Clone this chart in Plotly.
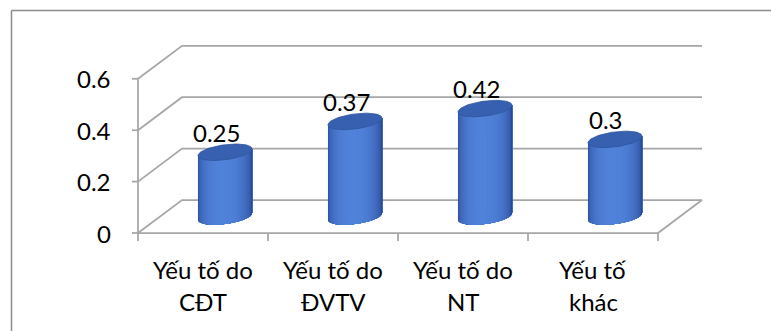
import numpy as np
import plotly.graph_objects as go

# ---- chart data -------------------------------------------------------------
categories = ["Yếu tố do\nCĐT", "Yếu tố do\nĐVTV", "Yếu tố do\nNT", "Yếu tố\nkhác"]
values = [0.25, 0.37, 0.42, 0.3]
tick_values = [0, 0.2, 0.4, 0.6]
tick_labels = ["0", "0.2", "0.4", "0.6"]

# ---- look & geometry ----------------------------------------------------------
W, H = 771, 331
PX_X = 1 / 130.0          # one pixel in category units
PX_Y = 1 / 257.0          # one pixel in value units
X0_PX, Y0_PX = 138, 233   # where the front-left-bottom corner sits
DEPTH_DX = 44 * PX_X      # oblique depth offset of the back wall
DEPTH_DY = 33 * PX_Y
GRID = "#a6a6a6"
FONT = "Lato"
FONT_SIZE = 24
CYL_RX = 0.19             # cylinder radius across (category units)
CYL_RZ = 0.25             # cylinder radius in depth (fraction of depth)
CYL_ZC = 0.5              # cylinder sits at mid depth
DARK = np.array([36, 64, 138])
LIGHT = np.array([80, 130, 218])
TOP = "#3760b0"

n_cat = len(categories)
fig = go.Figure()


def line(xs, ys, width=1.75, color=GRID):
    fig.add_trace(go.Scatter(x=xs, y=ys, mode="lines",
                             line=dict(color=color, width=width),
                             hoverinfo="skip", showlegend=False))


# ---- walls: side wall + back wall gridlines, floor, axes ---------------------
for t in tick_values:
    line([0, DEPTH_DX, n_cat + DEPTH_DX], [t, t + DEPTH_DY, t + DEPTH_DY])
# floor front edge (category axis) and right edge
line([0, n_cat, n_cat + DEPTH_DX], [0, 0, DEPTH_DY])
# value axis
line([0, 0], [0, max(tick_values)])
# value axis tick marks
tx, ty = [], []
for t in tick_values:
    tx += [-6 * PX_X, 0, None]
    ty += [t, t, None]
line(tx, ty)
# category tick marks
cx_, cy_ = [], []
for i in range(n_cat + 1):
    cx_ += [i, i, None]
    cy_ += [0, -8 * PX_Y, None]
line(cx_, cy_)

# ---- cylinders ---------------------------------------------------------------
theta_star = np.arctan2(CYL_RZ * DEPTH_DX, CYL_RX)
N_STRIPS = 60
edges = np.linspace(theta_star + np.pi, theta_star + 2 * np.pi, N_STRIPS + 1)
light_dir = 1.5 * np.pi + 0.35


def proj(cx, base, th):
    z = CYL_ZC + CYL_RZ * np.sin(th)
    return cx + CYL_RX * np.cos(th) + z * DEPTH_DX, base + z * DEPTH_DY


# each band runs from its own start angle to the right silhouette edge and the
# next band is painted over it, so neighbouring bands never leave seams
for k in range(N_STRIPS):
    a, b = edges[k], edges[-1]
    mid = 0.5 * (edges[k] + edges[k + 1])
    t = max(0.0, np.cos(mid - light_dir)) ** 0.8
    rgb = DARK + (LIGHT - DARK) * t
    col = "rgb(%d,%d,%d)" % tuple(rgb.round().astype(int))
    xs, ys = [], []
    for i, v in enumerate(values):
        cx = i + 0.5
        th = np.linspace(a, b, 40)
        bx, by = proj(cx, 0.0, th)
        ux, uy = proj(cx, v, th[::-1])
        xs += list(bx) + list(ux) + [bx[0], None]
        ys += list(by) + list(uy) + [by[0], None]
    fig.add_trace(go.Scatter(x=xs, y=ys, mode="lines", fill="toself",
                             fillcolor=col, line=dict(color=col, width=0),
                             hoverinfo="skip", showlegend=False))

# top caps
th = np.linspace(0, 2 * np.pi, 80)
xs, ys = [], []
for i, v in enumerate(values):
    ex, ey = proj(i + 0.5, v, th)
    xs += list(ex) + [None]
    ys += list(ey) + [None]
fig.add_trace(go.Scatter(x=xs, y=ys, mode="lines", fill="toself",
                         fillcolor=TOP, line=dict(color="#2f549c", width=0.8),
                         hoverinfo="skip", showlegend=False))

# ---- text --------------------------------------------------------------------
annotations = []
font = dict(family=FONT, size=FONT_SIZE, color="#000000")
for t, lab in zip(tick_values, tick_labels):
    annotations.append(dict(x=-25 * PX_X, y=t, text=lab, showarrow=False,
                            xanchor="right", yanchor="middle", font=font))
for i, v in enumerate(values):
    annotations.append(dict(x=i + 0.5 + 13 * PX_X, y=v + 0.141, text=str(v),
                            showarrow=False, xanchor="center", yanchor="middle",
                            font=font))
for i, cat in enumerate(categories):
    for j, part in enumerate(cat.split("\n")):
        annotations.append(dict(x=i + 0.5, y=-(36 + 32.5 * j) * PX_Y, text=part,
                                showarrow=False, xanchor="center",
                                yanchor="middle", font=font))

# ---- outer frame -------------------------------------------------------------
shapes = [
    dict(type="line", xref="paper", yref="paper", x0=11.5 / W, x1=1.05,
         y0=1 - 10.5 / H, y1=1 - 10.5 / H, line=dict(color="#8c8c8c", width=1.5)),
    dict(type="line", xref="paper", yref="paper", x0=11.5 / W, x1=11.5 / W,
         y0=1 - 10.5 / H, y1=-0.05, line=dict(color="#8c8c8c", width=1.5)),
]

fig.update_layout(
    width=W, height=H,
    margin=dict(l=0, r=0, t=0, b=0),
    paper_bgcolor="white", plot_bgcolor="white",
    showlegend=False, hovermode=False,
    xaxis=dict(range=[-X0_PX * PX_X, (W - X0_PX) * PX_X], visible=False,
               fixedrange=True),
    yaxis=dict(range=[(Y0_PX - H) * PX_Y, Y0_PX * PX_Y], visible=False,
               fixedrange=True),
    annotations=annotations, shapes=shapes,
)

fig.write_html("out.html", config={"displayModeBar": False})
